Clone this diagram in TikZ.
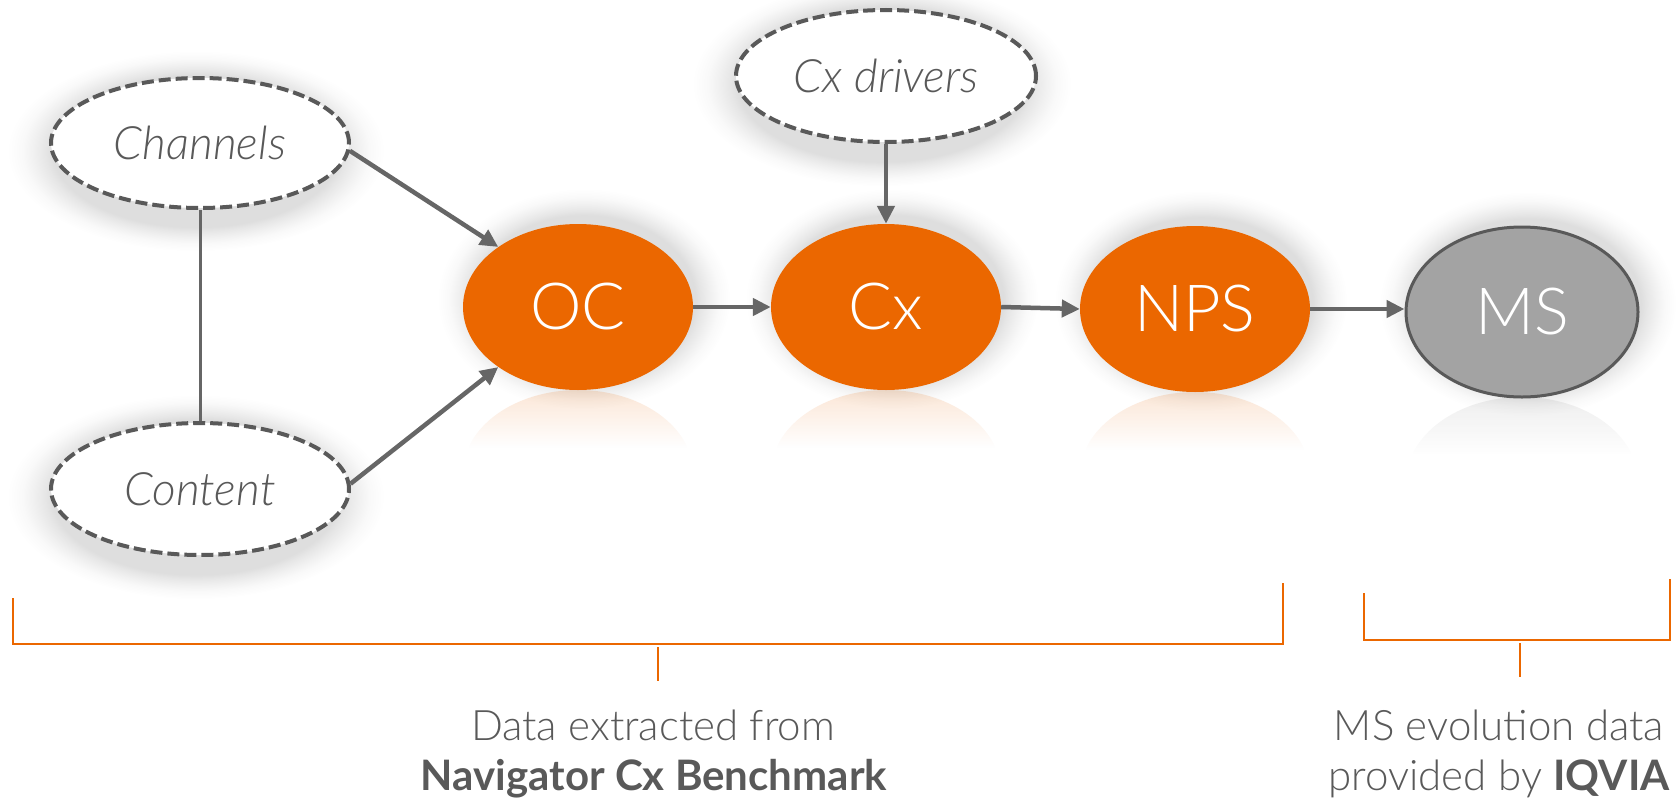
\documentclass[tikz,border=0pt]{standalone}
\usepackage{fontspec}
\setmainfont{Lato}
\newfontfamily\lightfont{Lato}[UprightFont={* Light}, ItalicFont={* Light Italic}, BoldFont={* Bold}]
\usetikzlibrary{shapes.geometric, arrows.meta, fadings, calc}
\definecolor{orng}{HTML}{EB6700}
\definecolor{dgray}{HTML}{595959}
\definecolor{agray}{HTML}{666666}
\definecolor{msgray}{HTML}{A3A3A3}
\tikzfading[name=reflfade, top color=transparent!84, bottom color=transparent!100]
\tikzfading[name=reflfadeg, top color=transparent!90, bottom color=transparent!100]
\pgfdeclareradialshading{glowshade}{\pgfpoint{0bp}{0bp}}{%
  color(0bp)=(pgftransparent!0); color(19bp)=(pgftransparent!0);
  color(20bp)=(pgftransparent!25); color(21.5bp)=(pgftransparent!55);
  color(23bp)=(pgftransparent!82); color(25bp)=(pgftransparent!100);
  color(50bp)=(pgftransparent!100)}
\pgfdeclarefading{glow}{\pgfuseshading{glowshade}}
\newcommand{\myrefl}[6]{% cx, ybottom, rx, ry, color, fading
  \begin{scope}
    \clip (#1,#2+#4) ellipse [x radius=#3, y radius=#4];
    \fill[#5, path fading=#6] (#1-#3,#2) rectangle (#1+#3,#2+58);
  \end{scope}}
\tikzset{
  glowfill/.style={fill=black, fill opacity=0.13, path fading=glow},
  dashnode/.style={ellipse, draw=dgray, line width=4pt, dash pattern=on 12pt off 5pt,
    fill=white, inner sep=0pt, text=dgray,
    font=\lightfont\itshape\fontsize{46}{50}\selectfont},
  mainnode/.style={ellipse, fill=orng, inner sep=0pt, minimum width=230pt, minimum height=166pt,
    text=white, font=\lightfont\fontsize{65}{70}\selectfont},
  msnode/.style={ellipse, fill=msgray, draw=dgray, line width=3pt, inner sep=0pt,
    minimum width=232pt, minimum height=170pt, text=white,
    font=\lightfont\fontsize{65}{70}\selectfont},
  arr/.style={draw=agray, line width=4.5pt, -{Triangle[length=18pt,width=17pt]}},
  plain/.style={draw=agray, line width=3pt},
  brk/.style={draw=orng, line width=2pt},
  labtxt/.style={anchor=base, text=dgray, inner sep=0pt, font=\fontsize{42}{46}\selectfont},
}
\begin{document}
\begin{tikzpicture}[x=1pt, y=-1pt]
\useasboundingbox[fill=white] (0,0) rectangle (1680,800);

% centres
\coordinate (pch) at (200,143);
\coordinate (pct) at (200,489);
\coordinate (pdrv) at (886,76);
\coordinate (poc) at (578,307);
\coordinate (pcx) at (886,307);
\coordinate (pnps) at (1195,309);
\coordinate (pms) at (1522,312);

% soft shadows
\fill[glowfill] ($(pch)+(-4,8)$) ellipse [x radius=188, y radius=100];
\fill[glowfill] ($(pct)+(-4,8)$) ellipse [x radius=188, y radius=102];
\fill[glowfill] ($(pdrv)+(-4,8)$) ellipse [x radius=189, y radius=102];
\fill[glowfill] ($(poc)+(6,-8)$) ellipse [x radius=146, y radius=110];
\fill[glowfill] ($(pcx)+(6,-8)$) ellipse [x radius=146, y radius=110];
\fill[glowfill] ($(pnps)+(6,-8)$) ellipse [x radius=146, y radius=110];
\fill[glowfill] ($(pms)+(6,-8)$) ellipse [x radius=148, y radius=112];

% reflections
\myrefl{578}{390}{115}{83}{orng}{reflfade}
\myrefl{886}{390}{115}{83}{orng}{reflfade}
\myrefl{1195}{392}{115}{83}{orng}{reflfade}
\myrefl{1522}{397}{116}{85}{dgray}{reflfadeg}

% nodes
\node[dashnode, minimum width=298pt, minimum height=130pt] (ch) at (pch) {Channels};
\node[dashnode, minimum width=298pt, minimum height=132pt] (ct) at (pct) {Content};
\node[dashnode, minimum width=300pt, minimum height=132pt] (drv) at (pdrv) {Cx drivers};
\node[mainnode] (oc) at (poc) {OC};
\node[mainnode] (cx) at (pcx) {Cx};
\node[mainnode] (nps) at (pnps) {NPS};
\node[msnode] (ms) at (pms) {MS};

% connectors
\draw[plain] (ch.south) -- (ct.north);
\draw[arr] (ch.-3) -- (oc.143);
\draw[arr] (ct.2) -- (oc.-143);
\draw[arr] (drv.south) -- (cx.north);
\draw[arr] (oc.east) -- (cx.west);
\draw[arr] (cx.east) -- (nps.west);
\draw[arr] (nps.east) -- (ms.west |- nps.east);

% brackets
\coordinate (b1a) at (13,598);
\coordinate (b1b) at (1283,583);
\coordinate (b2a) at (1364,593);
\coordinate (b2b) at (1670,579);
\draw[brk] (b1a) -- (13,644) -- (1283,644) -- (b1b);
\draw[brk] (658,647) -- (658,681);
\draw[brk] (b2a) -- (1364,640) -- (1670,640) -- (b2b);
\draw[brk] (1520,643) -- (1520,677);

% labels
\node[labtxt] (t1) at (653,740) {\lightfont Data extracted from};
\node[labtxt] (t2) at (654,790) {\bfseries Navigator Cx Benchmark};
\node[labtxt] (t3) at (1499,740) {\lightfont MS evolution data};
\node[labtxt] (t4) at (1499,790) {\lightfont provided by \bfseries IQVIA};
\end{tikzpicture}
\end{document}
